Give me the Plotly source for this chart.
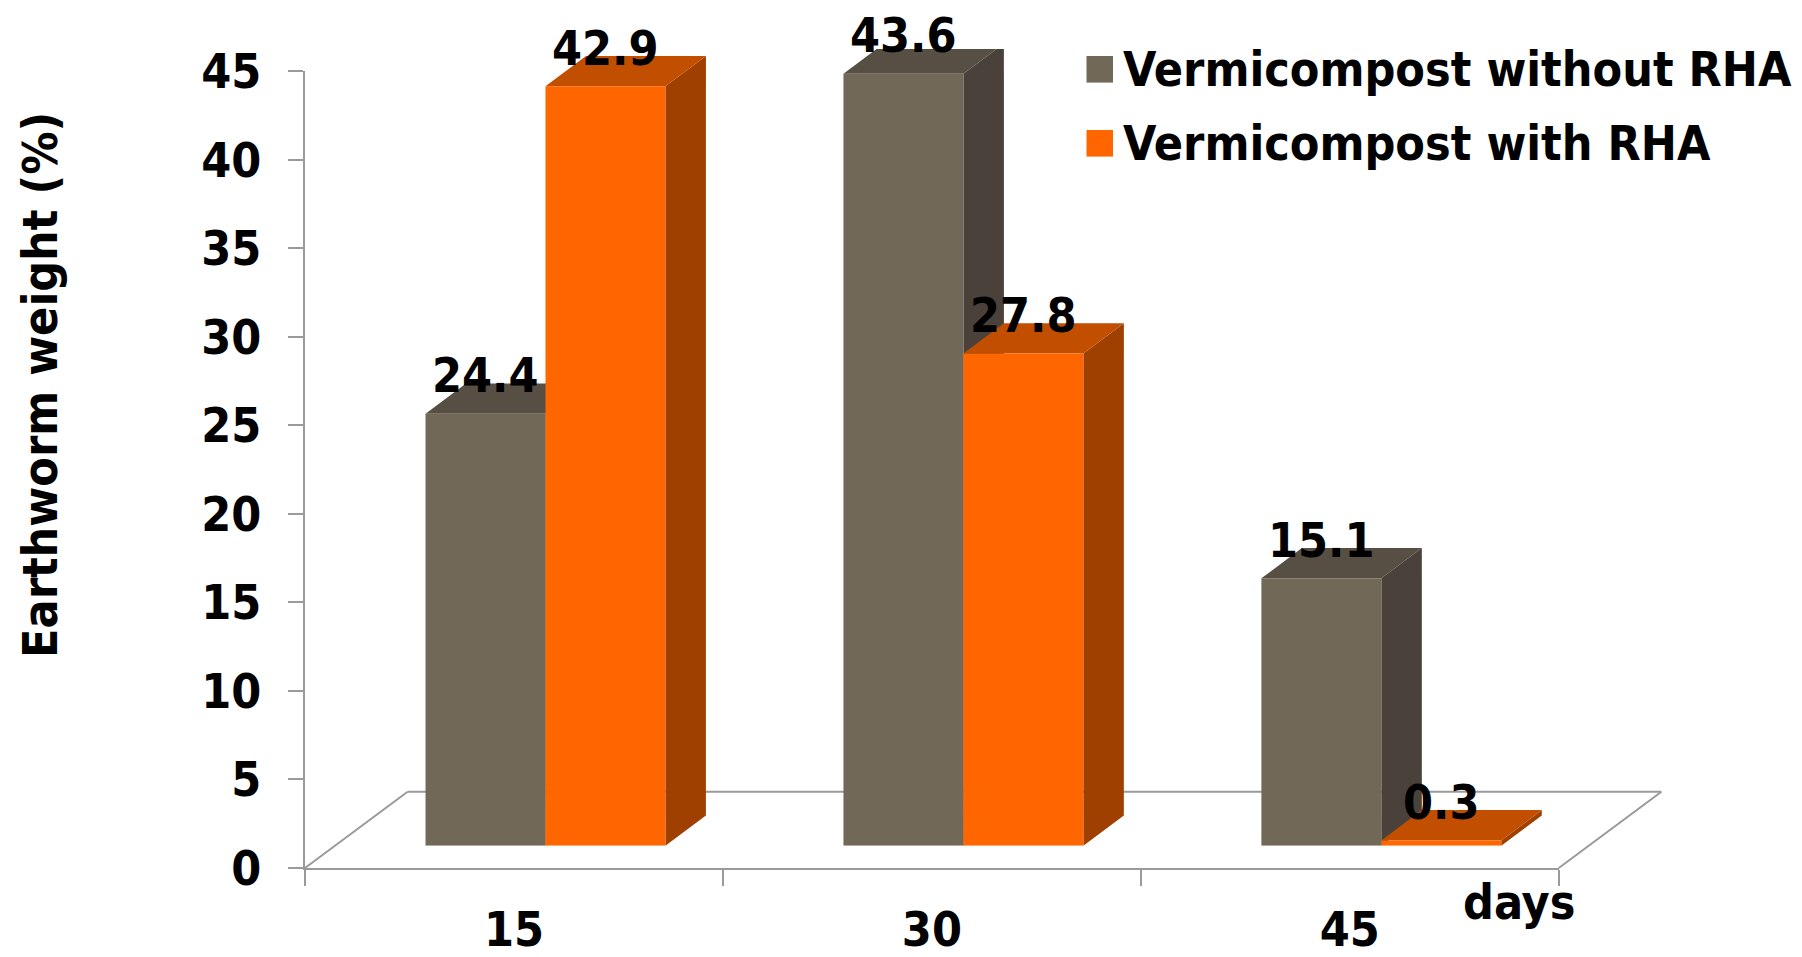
import plotly.graph_objects as go

# ---------------- data ----------------
days = ["15", "30", "45"]
series_names = ["Vermicompost without RHA", "Vermicompost with RHA"]
without_rha = [24.4, 43.6, 15.1]
with_rha = [42.9, 27.8, 0.3]
series_values = [without_rha, with_rha]
y_title = "Earthworm weight (%)"
x_title = "days"

# ---------------- style ----------------
front_colors = ["#716858", "#FF6600"]
top_colors = ["#574E44", "#C24F00"]
side_colors = ["#4A423A", "#A04000"]
line_col = "#9a9a9a"
FONT = dict(family="DejaVu Sans Condensed, DejaVu Sans, Verdana, sans-serif", size=48,
            color="black", weight="bold")

W, H = 1802, 957
# pixel frame of the floor front edge / value axis
PX_LEFT, PX_RIGHT = 305.0, 1558.8
PY_ZERO, PY_TOP = 868.0, 71.3
Y_MAX = 45
# bars sit half-way into the depth of the floor
BAR_SHIFT_X, BAR_SHIFT_Y = 31.5, 22.3
# depth of floor and of a bar (pixels)
FLOOR_DX, FLOOR_DY = 102.6, 76.3
BAR_DX, BAR_DY = 40.5, 30.3

n = len(days)
x_unit = (PX_RIGHT - PX_LEFT) / n
y_unit = (PY_ZERO - PY_TOP) / Y_MAX

bar_w = 0.287
bargap = 1 - 2 * bar_w


def fx(px):
    return px / W


def fy(py):
    return 1 - py / H


fig = go.Figure()

# invisible trace to establish category axis (main frame)
fig.add_trace(go.Scatter(x=days, y=[0] * n, mode="markers", marker=dict(opacity=0),
                         showlegend=False, hoverinfo="skip", xaxis="x", yaxis="y"))

positions = list(range(n))
for s, (name, vals) in enumerate(zip(series_names, series_values)):
    fig.add_trace(go.Bar(x=positions, y=vals, name=name, marker=dict(color=front_colors[s], line=dict(width=0)),
                         xaxis="x2", yaxis="y2", showlegend=False))

shapes = []
# floor outline (paper coords, so it is not clipped at the plot edge)
floor_line = dict(color=line_col, width=2)
bl = (fx(PX_LEFT + FLOOR_DX), fy(PY_ZERO - FLOOR_DY))
br = (fx(PX_RIGHT + FLOOR_DX), fy(PY_ZERO - FLOOR_DY))
fl = (fx(PX_LEFT), fy(PY_ZERO))
fr = (fx(PX_RIGHT), fy(PY_ZERO))
for a, b in [(bl, br), (fl, bl), (fr, br)]:
    shapes.append(dict(type="line", xref="paper", yref="paper", x0=a[0], y0=a[1], x1=b[0], y1=b[1],
                       line=floor_line, layer="below"))

# 3D faces for bars
bdx = BAR_DX / x_unit
bdy = BAR_DY / y_unit
for s, vals in enumerate(series_values):
    off = (s - 0.5) * bar_w
    for i, v in enumerate(vals):
        left = i + off - bar_w / 2
        right = i + off + bar_w / 2
        side = f"M{right},0 L{right + bdx},{bdy} L{right + bdx},{v + bdy} L{right},{v} Z"
        top = f"M{left},{v} L{right},{v} L{right + bdx},{v + bdy} L{left + bdx},{v + bdy} Z"
        shapes.append(dict(type="path", xref="x2", yref="y2", path=side, fillcolor=side_colors[s],
                           line=dict(width=0), layer="below"))
        shapes.append(dict(type="path", xref="x2", yref="y2", path=top, fillcolor=top_colors[s],
                           line=dict(width=0), layer="below"))

annotations = []
# data labels
for s, vals in enumerate(series_values):
    off = (s - 0.5) * bar_w
    for i, v in enumerate(vals):
        annotations.append(dict(xref="x2", yref="y2", x=i + off, y=v, text=f"{v}", showarrow=False,
                                yshift=38.5, xanchor="center", yanchor="middle", font=FONT))

# legend (manual)
leg_rows = [69.3, 143.3]
for s, name in enumerate(series_names):
    cy = leg_rows[s]
    shapes.append(dict(type="rect", xref="paper", yref="paper", x0=fx(1086.5), x1=fx(1113),
                       y0=fy(cy + 13.3), y1=fy(cy - 13.3), fillcolor=front_colors[s], line=dict(width=0)))
    annotations.append(dict(xref="paper", yref="paper", x=fx(1121), y=fy(cy), text=name, showarrow=False,
                            xanchor="left", yanchor="middle", font=FONT))

# axis titles
annotations.append(dict(xref="paper", yref="paper", x=fx(40), y=fy(385), text=y_title, textangle=-90,
                        showarrow=False, xanchor="center", yanchor="middle", font=FONT))
annotations.append(dict(xref="paper", yref="paper", x=fx(1519), y=fy(901.7), text=x_title,
                        showarrow=False, xanchor="center", yanchor="middle", font=FONT))

fig.update_layout(
    width=W, height=H,
    margin=dict(l=0, r=0, t=0, b=0, autoexpand=False),
    paper_bgcolor="white", plot_bgcolor="rgba(0,0,0,0)",
    showlegend=False,
    barmode="group", bargap=bargap, bargroupgap=0,
    xaxis=dict(domain=[fx(PX_LEFT), fx(PX_RIGHT)], type="category", categoryorder="array",
               categoryarray=days, range=[-0.5, n - 0.5], anchor="y", automargin=False,
               showline=True, linecolor=line_col, linewidth=2,
               ticks="outside", tickson="boundaries", ticklen=16, tickwidth=2, tickcolor=line_col,
               showgrid=False, zeroline=False, tickfont=FONT, ticklabelstandoff=18),
    yaxis=dict(domain=[fy(PY_ZERO), fy(PY_TOP)], range=[0, Y_MAX], anchor="x", automargin=False,
               tickmode="linear", tick0=0, dtick=5,
               showline=True, linecolor=line_col, linewidth=2,
               ticks="outside", ticklen=15, tickwidth=2, tickcolor=line_col,
               showgrid=False, zeroline=False, tickfont=FONT, ticklabelstandoff=17),
    xaxis2=dict(domain=[fx(PX_LEFT + BAR_SHIFT_X), fx(PX_RIGHT + BAR_SHIFT_X)], range=[-0.5, n - 0.5],
                anchor="y2", visible=False, automargin=False),
    yaxis2=dict(domain=[fy(PY_ZERO - BAR_SHIFT_Y), fy(PY_TOP - BAR_SHIFT_Y)], range=[0, Y_MAX],
                anchor="x2", visible=False, automargin=False),
    shapes=shapes,
    annotations=annotations,
)

fig.write_html("out.html")
